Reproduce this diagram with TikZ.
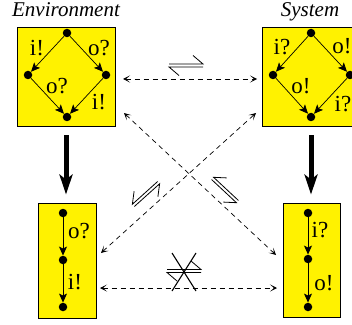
\documentclass[tikz,border=0pt]{standalone}
\usepackage{fontspec}
\setmainfont{Liberation Serif}
\usetikzlibrary{arrows.meta}
\begin{document}
\begin{tikzpicture}[x=1pt,y=1pt,
  panel/.style={draw=black, fill=yellow, line width=0.8pt, inner sep=0pt},
  state/.style={circle, fill=black, inner sep=0pt, minimum size=8.5pt},
  trans/.style={-{Stealth[length=9pt,width=8pt,inset=2pt]}, line width=0.7pt},
  lbl/.style={font=\fontsize{23}{27}\selectfont, inner sep=0pt},
  title/.style={font=\fontsize{21}{25}\selectfont\itshape, inner sep=0pt, anchor=base},
  refine/.style={line width=5pt, -{Stealth[length=20pt,width=13pt,inset=5pt]}},
  rel/.style={dash pattern=on 5pt off 4pt, line width=0.7pt,
    {Stealth[length=7pt,width=7pt,inset=4pt]}-{Stealth[length=7pt,width=7pt,inset=4pt]}},
  harp/.pic={
    \draw[line width=0.8pt] (-17,1.5) -- (17,1.5) -- (7,10);
    \draw[line width=0.8pt] (17,-1.5) -- (-17,-1.5) -- (-7,-10);},
  harpm/.pic={
    \draw[line width=0.8pt] (17,1.5) -- (-17,1.5) -- (-7,10);
    \draw[line width=0.8pt] (-17,-1.5) -- (17,-1.5) -- (7,-10);}
]
\clip (0,0) rectangle (352,324);

% titles
\node[title] (tenv) at (66,307) {Environment};
\node[title] (tsys) at (310,307) {System};

% panels
\node[panel, minimum width=98pt, minimum height=99pt] (tl) at (66,247.5) {};
\node[panel, minimum width=98pt, minimum height=99pt] (tr) at (311,247.5) {};
\node[panel, minimum width=58pt, minimum height=115pt] (bl) at (67,63.5) {};
\node[panel, minimum width=57pt, minimum height=114pt] (br) at (311.5,64) {};

% environment diamond
\node[state] (e1) at (67,291) {};
\node[state] (e2) at (28,249) {};
\node[state] (e3) at (106,249) {};
\node[state] (e4) at (67,207) {};
\draw[trans] (e1) -- (e2);
\draw[trans] (e1) -- (e3);
\draw[trans] (e2) -- (e4);
\draw[trans] (e3) -- (e4);
\node[lbl] (le1) at (37,276) {i!};
\node[lbl] (le2) at (99,276) {o?};
\node[lbl] (le3) at (57,238) {o?};
\node[lbl] (le4) at (99,222) {i!};

% system diamond
\node[state] (s1) at (311,291) {};
\node[state] (s2) at (273,249) {};
\node[state] (s3) at (350,249) {};
\node[state] (s4) at (311,207) {};
\draw[trans] (s1) -- (s2);
\draw[trans] (s1) -- (s3);
\draw[trans] (s2) -- (s4);
\draw[trans] (s3) -- (s4);
\node[lbl] (ls1) at (282,277) {i?};
\node[lbl] (ls2) at (342,278) {o!};
\node[lbl] (ls3) at (301,238) {o!};
\node[lbl] (ls4) at (343,220) {i?};

% environment chain
\node[state] (f1) at (63,111) {};
\node[state] (f2) at (63,64) {};
\node[state] (f3) at (63,17) {};
\draw[trans] (f1) -- (f2);
\draw[trans] (f2) -- (f3);
\node[lbl] (lf1) at (79,93) {o?};
\node[lbl] (lf2) at (75,42) {i!};

% system chain
\node[state] (g1) at (308,111) {};
\node[state] (g2) at (308,65) {};
\node[state] (g3) at (308,17) {};
\draw[trans] (g1) -- (g2);
\draw[trans] (g2) -- (g3);
\node[lbl] (lg1) at (320,94) {i?};
\node[lbl] (lg2) at (324,41) {o!};

% refinement arrows
\draw[refine, shorten <=9pt, shorten >=8pt] (tl.south) -- (tl.south |- bl.north);
\draw[refine, shorten <=9pt, shorten >=8pt] (tr.south) -- (tr.south |- br.north);

% relation endpoints
\coordinate (h1) at (123,245);
\coordinate (h2) at (257,245);
\coordinate (b1) at (100,36);
\coordinate (b2) at (277,36);
\coordinate (d1a) at (124,211);
\coordinate (d1b) at (276,69);
\coordinate (d2a) at (101,71);
\coordinate (d2b) at (256,211);

\draw[rel] (h1) -- (h2);
\draw[rel] (b1) -- (b2);
\draw[rel] (d1a) -- (d1b);
\draw[rel] (d2a) -- (d2b);

% relation symbols
\pic at (186,258.5) {harp};
\pic[rotate=42] at (146,130) {harpm};
\pic[rotate=-43] at (225,134) {harpm};
\pic at (184,53) {harp};
\draw[line width=1.1pt] (172,71) -- (196,33);
\draw[line width=1.1pt] (196,71) -- (172,33);
\end{tikzpicture}
\end{document}
